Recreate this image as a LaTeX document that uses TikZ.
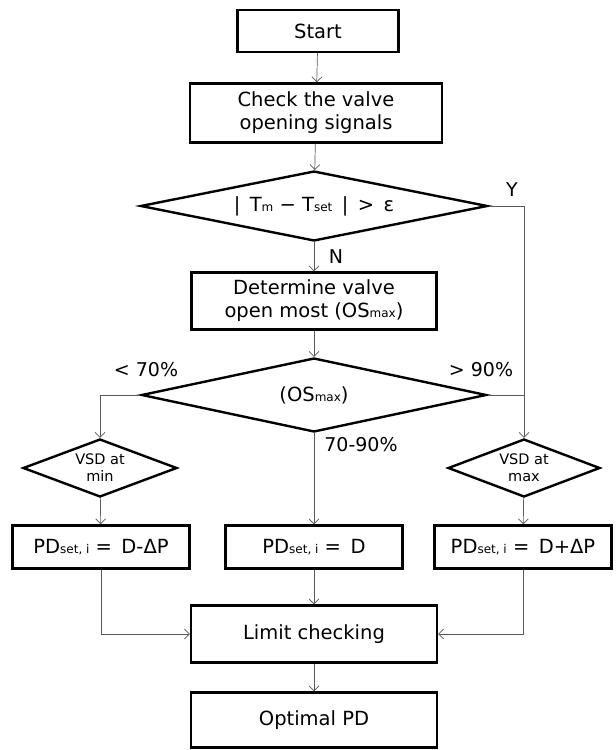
\documentclass[tikz,border=0pt]{standalone}
\usepackage{fontspec}
\setmainfont{DejaVu Sans}
\usetikzlibrary{shapes.geometric,arrows.meta}

% small index text that sits on the baseline
\newcommand{\low}[1]{{\fontsize{12}{12}\selectfont #1}}

\tikzset{
  box/.style={draw, line width=2.4pt, align=center, font=\fontsize{19.5}{23}\selectfont},
  decision/.style={diamond, draw, line width=2.4pt, align=center, inner sep=0pt},
  flow/.style={draw=black!65, line width=0.7pt, -{Straight Barb[length=5pt,width=10pt]}},
  link/.style={draw=black!65, line width=0.7pt},
  tag/.style={font=\fontsize{19}{20}\selectfont}
}

\begin{document}
\begin{tikzpicture}[x=1pt,y=-1pt]
  \useasboundingbox (0,0) rectangle (616,750);

  % main column
  \node[box, minimum width=161pt, minimum height=42pt] (start) at (318,31) {Start};
  \node[box, minimum width=252pt, minimum height=59pt] (check) at (316,113) {Check the valve\\opening signals};
  \node[decision, aspect=5, minimum width=347pt, minimum height=70pt, font=\fontsize{19.5}{20}\selectfont] (dev) at (314,206)
    {|\, T\low{m} − T\low{set} \,| \,> \,ε};
  \node[box, minimum width=245pt, minimum height=57pt] (most) at (314,301) {Determine valve\\open most (OS\low{max})};
  \node[decision, aspect=4.7, minimum width=345pt, minimum height=74pt, font=\fontsize{19.5}{20}\selectfont] (range) at (314,395)
    {(OS\low{max})};

  % side branches
  \node[decision, aspect=2.6, minimum width=154pt, minimum height=58pt, font=\fontsize{14.5}{17}\selectfont] (vsdmin) at (100,468) {VSD at\\min};
  \node[decision, aspect=2.6, minimum width=152pt, minimum height=58pt, font=\fontsize{14.5}{17}\selectfont] (vsdmax) at (524,468) {VSD at\\max};

  \node[box, minimum width=177pt, minimum height=43pt] (pdlow) at (101,547) {PD\low{set, i} = \,D-ΔP};
  \node[box, minimum width=177pt, minimum height=43pt] (pdmid) at (314,547) {PD\low{set, i} = \,D};
  \node[box, minimum width=177pt, minimum height=43pt] (pdhigh) at (523,547) {PD\low{set, i} = \,D+ΔP};

  \node[box, minimum width=246pt, minimum height=57pt] (limit) at (314,634) {Limit checking};
  \node[box, minimum width=246pt, minimum height=55pt] (optimal) at (314,720) {Optimal PD};

  % labels on the connectors
  \node[tag] (yes) at (512,190) {Y};
  \node[tag] (no) at (336,257) {N};
  \node[tag] (under) at (146,370) {< 70\%};
  \node[tag] (over) at (481,370) {> 90\%};
  \node[tag] (mid) at (361,445) {70-90\%};

  % connectors
  \draw[flow] (start) -- (check);
  \draw[flow] (check) -- (dev);
  \draw[flow] (dev) -- (most);
  \draw[flow] (most) -- (range);
  \draw[flow] (dev.east) -| (vsdmax.north);
  \draw[link] (range.east) -- (range.east -| vsdmax.north);
  \draw[flow] (range.west) -| (vsdmin.north);
  \draw[flow] (range.south) -- (pdmid.north);
  \draw[flow] (vsdmin) -- (pdlow);
  \draw[flow] (vsdmax) -- (pdhigh);
  \draw[flow] (pdlow.south) |- (limit.west);
  \draw[flow] (pdmid) -- (limit);
  \draw[flow] (pdhigh.south) |- (limit.east);
  \draw[flow] (limit) -- (optimal);
\end{tikzpicture}
\end{document}
